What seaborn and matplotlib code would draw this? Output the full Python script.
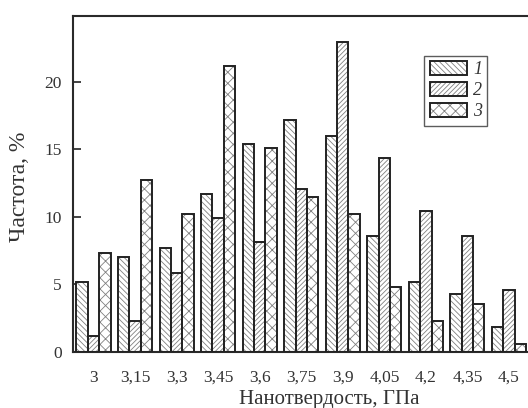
import numpy as np
import pandas as pd
import matplotlib
matplotlib.use("Agg")
import matplotlib.pyplot as plt
import seaborn as sns
from matplotlib.patches import Rectangle, Patch

categories = ["3", "3,15", "3,3", "3,45", "3,6", "3,75", "3,9", "4,05", "4,2", "4,35", "4,5"]
series_names = ["1", "2", "3"]
s1 = [5.2, 7.0, 7.7, 11.7, 15.4, 17.2, 16.0, 8.6, 5.2, 4.3, 1.8]
s2 = [1.2, 2.3, 5.8, 9.9, 8.1, 12.1, 23.0, 14.4, 10.4, 8.6, 4.6]
s3 = [7.3, 12.7, 10.2, 21.2, 15.1, 11.5, 10.2, 4.8, 2.3, 3.5, 0.6]
yticks = [0, 5, 10, 15, 20]
hatches = ["\\" * 6, "/" * 7, "xxx"]

sns.set_theme(style="white")
plt.rcParams["font.family"] = ["Liberation Serif", "DejaVu Serif"]
plt.rcParams["hatch.linewidth"] = 0.6

df = pd.DataFrame({
    "cat": categories * 3,
    "val": s1 + s2 + s3,
    "series": [n for n in series_names for _ in categories],
})

fig = plt.figure(figsize=(5.28, 4.08), dpi=100)
ax = fig.add_axes([0.1377, 0.138, 0.8656, 0.823])

sns.barplot(data=df, x="cat", y="val", hue="series", order=categories,
            hue_order=series_names, palette=["white"] * 3, width=0.82,
            saturation=1, legend=False, ax=ax, errorbar=None)

hatch_gray = "#808080"
for cont, h in zip(ax.containers, hatches):
    for p in cont:
        p.set_hatch(h)
        p.set_edgecolor(hatch_gray)
        p.set_linewidth(0)
        ax.add_patch(Rectangle(p.get_xy(), p.get_width(), p.get_height(),
                               fill=False, edgecolor="#222222", linewidth=1.4, zorder=3))

ax.set_xlim(-0.5, 10.5)
ax.set_ylim(0, 24.9)
ax.set_yticks(yticks)
ax.set_yticklabels([str(t) for t in yticks])

ax.set_xticks(np.arange(0.5, 10, 1))
ax.set_xticklabels([])
ax.set_xticks(np.arange(len(categories)), minor=True)
ax.set_xticklabels(categories, minor=True)
ax.tick_params(axis="x", which="major", direction="out", length=4, width=1.2, color="#222222")
ax.tick_params(axis="x", which="minor", length=0, pad=13, labelsize=12.5, labelcolor="#333333")
ax.tick_params(axis="y", direction="in", length=6, width=1.2, color="#222222",
               pad=8, labelsize=12.5, labelcolor="#333333", left=True)

for side in ["left", "bottom", "top", "right"]:
    ax.spines[side].set_color("#2a2a2a")
    ax.spines[side].set_linewidth(1.5)

ax.set_xlabel("Нанотвердость, ГПа", fontsize=15, color="#333333")
ax.xaxis.set_label_coords(0.561, -0.115)
ax.set_ylabel("Частота, %", fontsize=17, color="#333333")
ax.yaxis.set_label_coords(-0.093, 0.49)

handles = []
for h in hatches:
    hp = Patch(facecolor="white", edgecolor=hatch_gray, hatch=h, linewidth=0)
    bp = Patch(facecolor="none", edgecolor="#222222", linewidth=1.4)
    handles.append((hp, bp))
leg = ax.legend(handles, series_names, loc="upper left", bbox_to_anchor=(0.769, 0.881),
                prop={"style": "italic", "size": 13},
                handlelength=2.05, handleheight=0.75, labelspacing=0.22,
                handletextpad=0.35, borderpad=0.3, borderaxespad=0,
                fancybox=False, frameon=True)
leg.get_frame().set_edgecolor("#333333")
leg.get_frame().set_linewidth(1.0)
for t in leg.get_texts():
    t.set_color("#333333")

fig.savefig("out.png", dpi=100)
